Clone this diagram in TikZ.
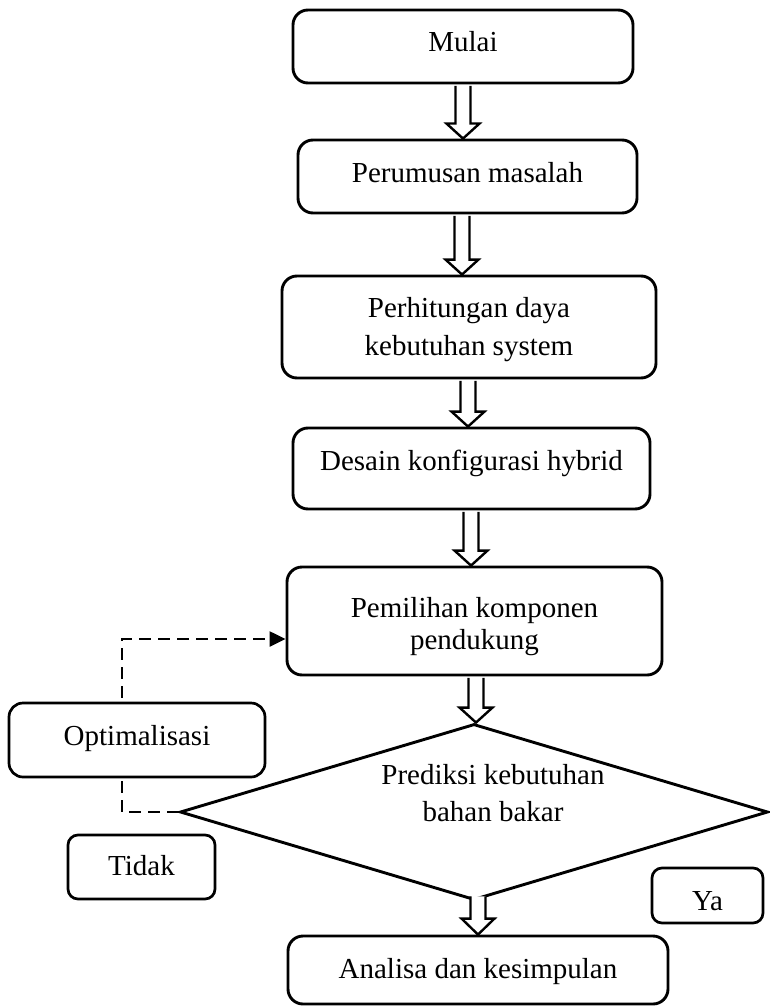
\documentclass[tikz,border=0pt]{standalone}
\usepackage{fontspec}
\setmainfont{Liberation Serif}
\usetikzlibrary{shapes.geometric,arrows.meta,calc}

% hollow block arrow pointing down from node #1 to node #2 at horizontal position #3 (pt)
\newcommand{\hollowdown}[3]{%
  \filldraw[hollow] let \p1=(#1.south), \p2=(#2.north) in
    (#3pt-7.5pt,\y1-1.5pt) -- (#3pt-7.5pt,\y2+15pt) -- (#3pt-16.5pt,\y2+15pt)
    -- (#3pt,\y2) -- (#3pt+16.5pt,\y2+15pt) -- (#3pt+7.5pt,\y2+15pt)
    -- (#3pt+7.5pt,\y1-1.5pt);
}

\begin{document}
\begin{tikzpicture}[x=1pt,y=-1pt,
  every node/.style={font=\fontsize{29}{36}\selectfont},
  stepbox/.style={draw, line width=2.9pt, rounded corners=15pt, align=center,
    inner sep=0pt, fill=white},
  tagbox/.style={draw, line width=2.7pt, rounded corners=10pt, inner sep=0pt,
    fill=white, text depth=6pt},
  decision/.style={draw, diamond, line width=2.9pt, inner sep=0pt},
  hollow/.style={draw=black, line width=2.4pt, fill=white, line join=miter},
  loopline/.style={line width=2.4pt, dash pattern=on 12pt off 7pt,
    -{Triangle[length=16pt,width=15pt]}}
]
\useasboundingbox[fill=white] (0,0) rectangle (769,1006);

% process steps
\node[stepbox, minimum width=340pt, minimum height=73pt,
  text height=17pt, text depth=6pt] (mulai) at (463,46.5) {Mulai};
\node[stepbox, minimum width=339pt, minimum height=73pt,
  text height=17pt, text depth=6pt] (rumus) at (467.5,176.5) {Perumusan masalah};
\node[stepbox, minimum width=374pt, minimum height=102pt,
  font=\fontsize{29}{38}\selectfont] (hitung) at (469,327)
  {\rule{0pt}{26pt}Perhitungan daya\\kebutuhan system};
\node[stepbox, minimum width=357pt, minimum height=81pt,
  text height=9pt, text depth=6pt] (desain) at (471.5,468.5) {Desain konfigurasi hybrid};
\node[stepbox, minimum width=375pt, minimum height=108pt,
  font=\fontsize{29}{32}\selectfont] (pilih) at (474.5,621)
  {\rule{0pt}{32pt}Pemilihan komponen\\pendukung};

% decision
\node[decision, minimum width=588pt, minimum height=176pt] (dia) at (474,812) {};
\node[align=center, font=\fontsize{29}{37}\selectfont] (qtext) at (493,793)
  {Prediksi kebutuhan\\bahan bakar};

\node[stepbox, minimum width=380pt, minimum height=68pt,
  text height=22pt, text depth=6pt] (hasil) at (478,970) {Analisa dan kesimpulan};

% feedback loop
\coordinate (fb) at (122,639);
\draw[loopline] (dia.west) -- (fb |- dia.west) -- (fb) -- (fb -| pilih.west);

\node[tagbox, rounded corners=14pt, minimum width=256pt, minimum height=74pt,
  text height=16pt] (opt) at (137,740) {Optimalisasi};
\node[tagbox, minimum width=147pt, minimum height=64pt,
  text height=22pt] (tidak) at (141.5,867) {Tidak};
\node[tagbox, minimum width=111pt, minimum height=55pt,
  text height=35pt] (ya) at (707.5,895.5) {Ya};

% flow arrows
\hollowdown{mulai}{rumus}{463}
\hollowdown{rumus}{hitung}{462}
\hollowdown{hitung}{desain}{468}
\hollowdown{desain}{pilih}{471}
\hollowdown{pilih}{dia}{476}
\filldraw[hollow] let \p1=(dia.south), \p2=(hasil.north) in
  (470.5pt,\y1+5pt) -- (470.5pt,\y2+16pt) -- (461.5pt,\y2+16pt)
  -- (478pt,\y2) -- (494.5pt,\y2+16pt) -- (485.5pt,\y2+16pt)
  -- (485.5pt,\y1+5pt);
\end{tikzpicture}
\end{document}
